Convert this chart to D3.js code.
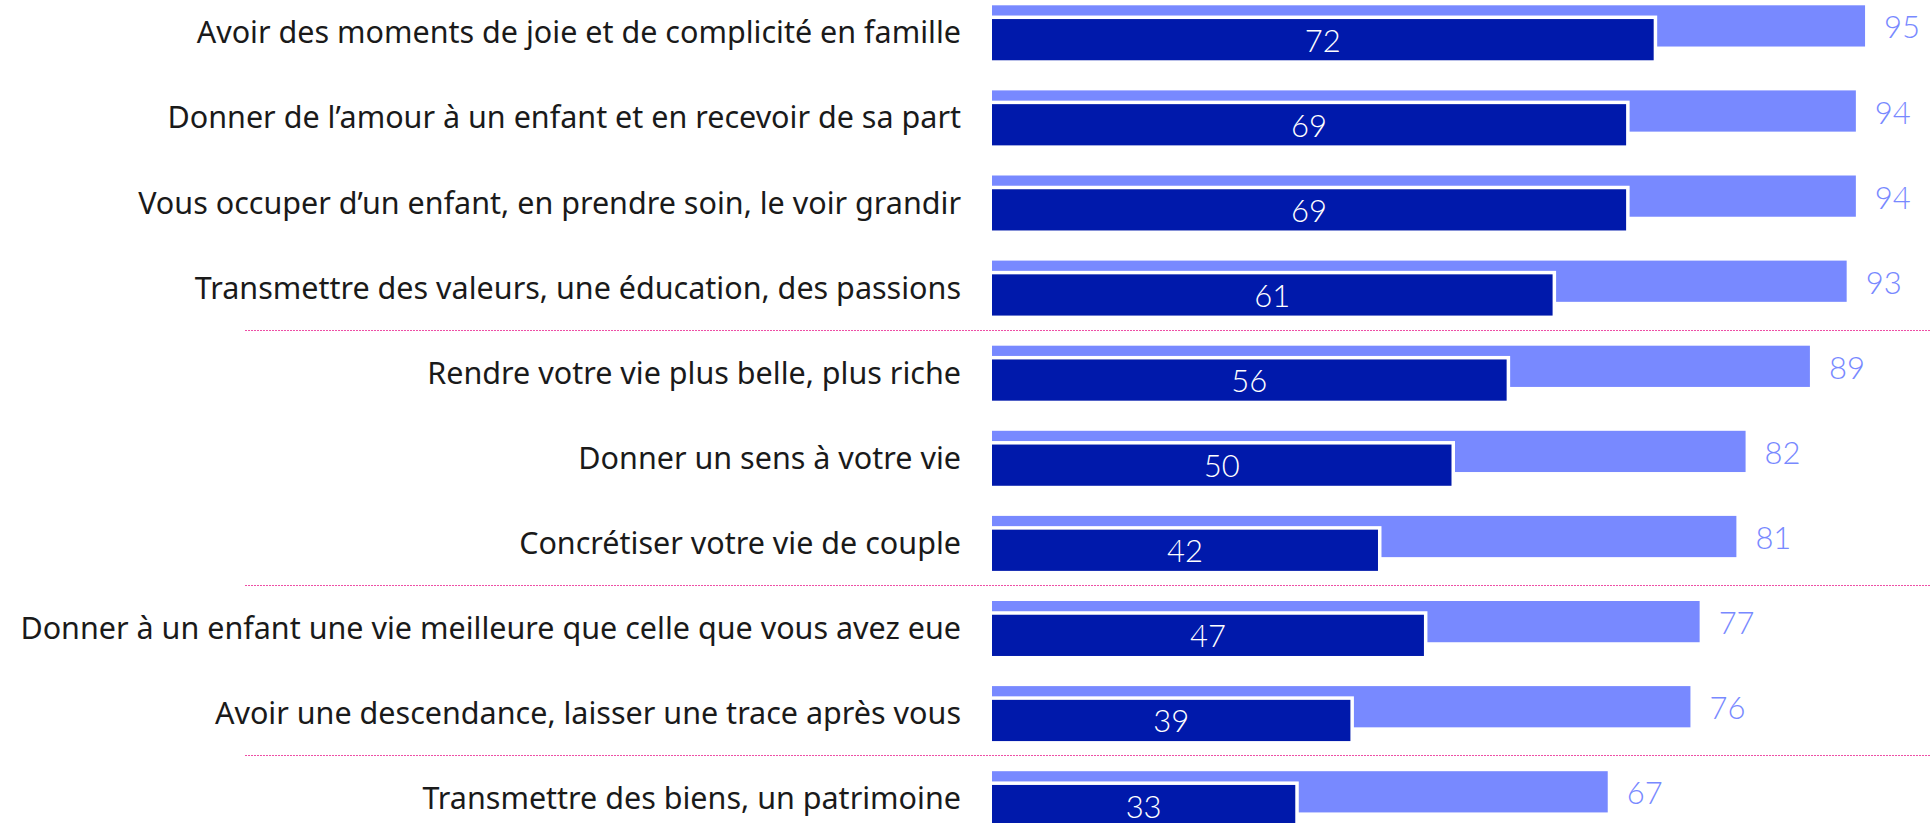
<!DOCTYPE html>
<html>
<head>
<meta charset="utf-8">
<script src="https://cdn.jsdelivr.net/npm/d3@7"></script>
<style>
  body { margin: 0; background: #fff; }
  svg { display: block; }
  .cat { font-family: "Noto Sans", sans-serif; fill: #1a1a1a; }
  .num { font-family: "Lato", "Noto Sans", sans-serif; font-weight: 300; }
</style>
</head>
<body>
<div id="chart"></div>
<script>
// categories (top to bottom)
var categories = [
  "Avoir des moments de joie et de complicité en famille",
  "Donner de l’amour à un enfant et en recevoir de sa part",
  "Vous occuper d’un enfant, en prendre soin, le voir grandir",
  "Transmettre des valeurs, une éducation, des passions",
  "Rendre votre vie plus belle, plus riche",
  "Donner un sens à votre vie",
  "Concrétiser votre vie de couple",
  "Donner à un enfant une vie meilleure que celle que vous avez eue",
  "Avoir une descendance, laisser une trace après vous",
  "Transmettre des biens, un patrimoine"
];
// light bars (total) and dark bars (sub-score)
var totalValues = [95, 94, 94, 93, 89, 82, 81, 77, 76, 67];
var darkValues = [72, 69, 69, 61, 56, 50, 42, 47, 39, 33];
// separators drawn after these category indexes
var separatorsAfter = [3, 6, 8];

var svgWidth = 1930;
var svgHeight = 823;

var lightColor = "#7889ff";
var darkColor = "#0019ab";

var svg = d3.select("#chart")
  .append("svg")
  .attr("width", svgWidth)
  .attr("height", svgHeight);

// x scale: 0 at bar origin
var x = d3.scaleLinear().domain([0, 100]).range([992, 1911]);

// y band per category
var y = d3.scaleBand()
  .domain(d3.range(categories.length))
  .range([5.3, 5.3 + 851])
  .paddingInner(0.354)
  .paddingOuter(0.177)
  .align(0);

var bw = y.bandwidth();
var barH = bw * 0.75;
var darkOff = bw * 0.25;

var rows = svg.selectAll("g.row")
  .data(categories)
  .enter().append("g")
  .attr("class", "row")
  .attr("transform", function(d, i) { return "translate(0," + y(i) + ")"; });

// light bars
rows.append("rect")
  .attr("x", x(0))
  .attr("y", 0)
  .attr("width", function(d, i) { return x(totalValues[i]) - x(0); })
  .attr("height", barH)
  .attr("fill", lightColor);

// white outline behind dark bars
rows.append("rect")
  .attr("x", x(0))
  .attr("y", darkOff - 3.5)
  .attr("width", function(d, i) { return x(darkValues[i]) - x(0) + 3.5; })
  .attr("height", barH + 3.5)
  .attr("fill", "#fff");

// dark bars
rows.append("rect")
  .attr("x", x(0))
  .attr("y", darkOff)
  .attr("width", function(d, i) { return x(darkValues[i]) - x(0); })
  .attr("height", barH)
  .attr("fill", darkColor);

// dark value labels
rows.append("text")
  .attr("class", "num")
  .attr("x", function(d, i) { return (x(0) + x(darkValues[i])) / 2; })
  .attr("y", darkOff + barH / 2 + 12)
  .attr("text-anchor", "middle")
  .attr("font-size", 31)
  .attr("fill", "#fff")
  .text(function(d, i) { return darkValues[i]; });

// light value labels
rows.append("text")
  .attr("class", "num")
  .attr("x", function(d, i) { return x(totalValues[i]) + 19; })
  .attr("y", barH / 2 + 12.5)
  .attr("font-size", 31)
  .attr("fill", lightColor)
  .text(function(d, i) { return totalValues[i]; });

// category labels
rows.append("text")
  .attr("class", "cat")
  .attr("x", 961)
  .attr("y", 38)
  .attr("text-anchor", "end")
  .attr("font-size", 30.5)
  .text(function(d) { return d; });

// dotted pink separators
svg.selectAll("line.sep")
  .data(separatorsAfter)
  .enter().append("line")
  .attr("class", "sep")
  .attr("x1", 245)
  .attr("x2", svgWidth)
  .attr("y1", function(i) { return Math.round((y(i) + bw + y(i + 1)) / 2) - 0.5; })
  .attr("y2", function(i) { return Math.round((y(i) + bw + y(i + 1)) / 2) - 0.5; })
  .attr("stroke", "#ee4fa6")
  .attr("stroke-width", 1)
  .attr("stroke-dasharray", "2,1");
</script>
</body>
</html>
